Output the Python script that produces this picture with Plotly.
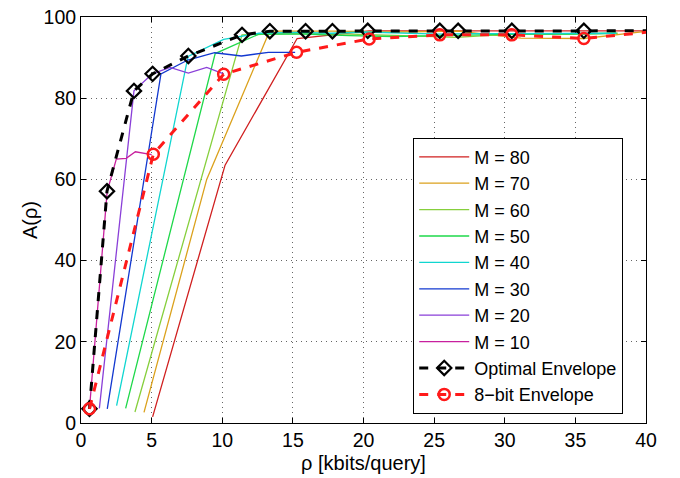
import plotly.graph_objects as go

# ---- data ----
m10_x = [0.6, 1.85, 2.5, 3.2, 3.85, 5.0]
m10_y = [3.5, 57.0, 65.0, 65.2, 66.8, 66.1]

m20_x = [1.3, 3.75, 5.05, 6.3, 7.6, 8.9, 10.1]
m20_y = [3.6, 81.8, 86.0, 87.6, 86.2, 87.6, 86.0]

m30_x = [1.86, 5.66, 7.56, 9.46, 11.36, 13.26, 15.16]
m30_y = [3.5, 86.0, 89.4, 91.2, 90.4, 91.3, 91.3]

m40_x = [2.52, 7.58, 10.1, 12.6, 15.2, 17.7, 20.2, 22.7, 25.3, 27.8, 30.3, 32.8, 35.4, 37.9]
m40_y = [4.3, 90.3, 94.5, 96.0, 96.2, 96.0, 96.3, 96.0, 95.8, 95.9, 95.9, 96.0, 96.0, 96.0]

m50_x = [3.16, 9.5, 12.6, 15.8, 19.0, 22.1, 25.3, 28.4, 31.6, 34.8, 37.9]
m50_y = [3.6, 91.0, 95.8, 95.8, 95.4, 95.2, 95.4, 95.6, 95.8, 95.8, 96.0]

m60_x = [3.82, 7.6, 11.4, 15.2, 19.0, 22.8, 26.6, 30.4, 34.2, 38.0]
m60_y = [2.7, 49.0, 95.6, 96.0, 95.8, 95.4, 95.0, 95.8, 95.8, 96.0]

m70_x = [4.46, 8.9, 13.35, 17.8, 22.25, 26.7, 31.15, 35.6, 40.05]
m70_y = [2.6, 60.0, 96.5, 96.5, 96.3, 96.5, 94.8, 94.7, 96.5]

m80_x = [5.07, 10.2, 15.3, 20.4, 25.5, 30.6, 35.7, 40.8]
m80_y = [1.5, 63.5, 94.7, 96.6, 96.6, 96.6, 96.6, 96.6]

opt_x = [0.6, 1.84, 3.75, 5.07, 7.6, 11.4, 13.37, 15.9, 17.8, 20.3, 25.4, 26.7, 30.5, 35.6, 41.0]
opt_y = [3.5, 57.1, 81.8, 86.0, 90.4, 95.6, 96.5, 96.5, 96.5, 96.6, 96.6, 96.6, 96.6, 96.6, 96.6]

bit8_x = [0.6, 5.12, 10.1, 15.26, 20.4, 25.4, 30.5, 35.6, 40.8]
bit8_y = [3.5, 66.2, 85.9, 91.3, 94.6, 95.6, 95.6, 94.7, 96.5]

x_ticks = [0, 5, 10, 15, 20, 25, 30, 35, 40]
y_ticks = [0, 20, 40, 60, 80, 100]

series = [
    ("M = 80", m80_x, m80_y, "#d01f1f"),
    ("M = 70", m70_x, m70_y, "#dba11c"),
    ("M = 60", m60_x, m60_y, "#86cf3c"),
    ("M = 50", m50_x, m50_y, "#1ed84a"),
    ("M = 40", m40_x, m40_y, "#10d6d0"),
    ("M = 30", m30_x, m30_y, "#1238d0"),
    ("M = 20", m20_x, m20_y, "#8a3fd8"),
    ("M = 10", m10_x, m10_y, "#c8209e"),
]

fig = go.Figure()
for name, xs, ys, col in series:
    fig.add_trace(go.Scatter(x=xs, y=ys, mode="lines", name=name,
                             line=dict(color=col, width=1.3)))

fig.add_trace(go.Scatter(
    x=opt_x, y=opt_y, mode="lines+markers", name="Optimal Envelope",
    line=dict(color="black", width=3, dash="dash"),
    marker=dict(symbol="diamond-open", size=11, color="black", line=dict(width=2.2))))

fig.add_trace(go.Scatter(
    x=bit8_x, y=bit8_y, mode="lines+markers", name="8\u2212bit Envelope",
    line=dict(color="#ff1a1a", width=3, dash="dash"),
    marker=dict(symbol="circle-open", size=11, color="#ff1a1a", line=dict(width=2.5))))

axis_common = dict(
    showline=True, linecolor="black", linewidth=1, mirror="allticks",
    ticks="inside", ticklen=5, tickcolor="black",
    showgrid=True, gridcolor="#666666", griddash="1px,4px", gridwidth=1,
    zeroline=False, tickfont=dict(size=19.5, color="black"),
    ticklabeloverflow="allow",
)

fig.update_layout(
    width=680, height=478,
    margin=dict(l=81, r=34, t=6, b=55),
    paper_bgcolor="white", plot_bgcolor="white",
    font=dict(family="Liberation Sans, Arial, sans-serif", size=19.5, color="black"),
    xaxis=dict(range=[0, 40], tickvals=x_ticks,
               title=dict(text="\u03c1 [kbits/query]", font=dict(size=20), standoff=5),
               **axis_common),
    yaxis=dict(range=[0, 100], tickvals=y_ticks,
               title=dict(text="A(\u03c1)", font=dict(size=20), standoff=0),
               **axis_common),
    legend=dict(x=0.588, y=0.703, xanchor="left", yanchor="top",
                bordercolor="black", borderwidth=1, bgcolor="white",
                font=dict(size=18), itemwidth=50, tracegroupgap=0),
    showlegend=True,
)

fig.write_html("out.html", config={"displayModeBar": False},
               post_script="document.body.style.margin='0px';")
